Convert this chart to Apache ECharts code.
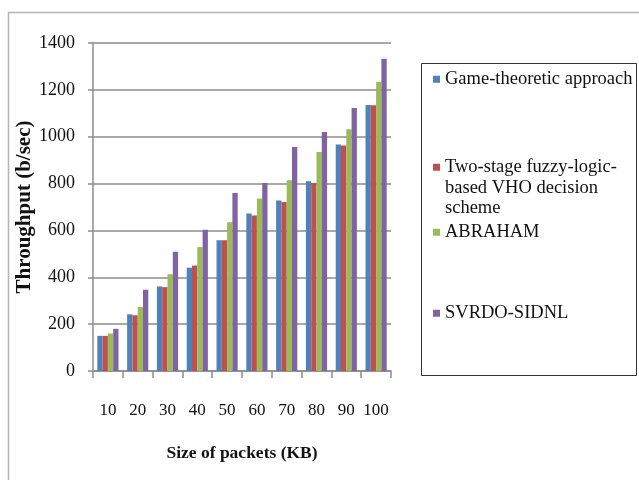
<!DOCTYPE html>
<html>
<head>
<meta charset="utf-8">
<style>
  html, body { margin: 0; padding: 0; background: #fff; }
  #chart { width: 639px; height: 480px; }
</style>
<script src="https://cdn.jsdelivr.net/npm/echarts@6/dist/echarts.min.js"></script>
</head>
<body>
<div id="chart"></div>
<script>
// Packet sizes (KB) on the category axis
const packetSizes = ['10', '20', '30', '40', '50', '60', '70', '80', '90', '100'];

// Throughput (b/sec) for each handover scheme
const gameTheoretic = [150, 242, 361, 441, 558, 672, 728, 810, 967, 1135];
const twoStageFuzzy = [150, 238, 358, 450, 558, 664, 721, 802, 963, 1134];
const abraham       = [160, 273, 413, 529, 635, 736, 814, 935, 1032, 1234];
const svrdoSidnl    = [180, 347, 509, 603, 760, 802, 956, 1020, 1123, 1333];

const seriesNames = [
  'Game-theoretic approach',
  'Two-stage fuzzy-logic-based VHO decision scheme',
  'ABRAHAM',
  'SVRDO-SIDNL'
];
const seriesValues = [gameTheoretic, twoStageFuzzy, abraham, svrdoSidnl];
const seriesColors = ['#4F81BD', '#C0504D', '#9BBB59', '#8064A2'];

const yTicks = { min: 0, max: 1400, interval: 200 };

const serif = '"Liberation Serif", "Times New Roman", serif';

const chart = echarts.init(document.getElementById('chart'), null, { renderer: 'canvas' });

// Each legend entry sits in its own slot inside the framed box
const legendTops = [69, 116, 222, 303];
const legendLabels = {
  'Game-theoretic approach': 'Game-theoretic approach',
  'Two-stage fuzzy-logic-based VHO decision scheme': '\n\nTwo-stage fuzzy-logic-\nbased VHO decision\nscheme',
  'ABRAHAM': 'ABRAHAM',
  'SVRDO-SIDNL': 'SVRDO-SIDNL'
};

const legends = seriesNames.map((name, i) => ({
  data: [name],
  left: 433,
  top: legendTops[i],
  padding: 0,
  orient: 'vertical',
  itemWidth: 7,
  itemHeight: 7,
  icon: 'rect',
  selectedMode: false,
  formatter: n => legendLabels[n],
  textStyle: { fontFamily: serif, fontSize: 18.5, color: '#111', lineHeight: 20.5 }
}));

chart.setOption({
  animation: false,
  backgroundColor: '#fff',
  graphic: [
    {
      type: 'rect',
      shape: { x: 8.5, y: 12.5, width: 700, height: 600 },
      style: { fill: 'none', stroke: '#b5b5b5', lineWidth: 1.5 },
      silent: true, z: -1
    },
    {
      type: 'rect',
      shape: { x: 421.5, y: 63.5, width: 215, height: 312 },
      style: { fill: 'none', stroke: '#333', lineWidth: 1 },
      silent: true
    }
  ],
  legend: legends,
  grid: { left: 93, right: 248, top: 43, bottom: 109 },
  xAxis: {
    type: 'category',
    data: packetSizes,
    name: 'Size of packets (KB)',
    nameLocation: 'middle',
    nameGap: 73,
    nameTextStyle: { fontFamily: serif, fontSize: 17.5, fontWeight: 'bold', color: '#111' },
    axisLine: { lineStyle: { color: '#8c8c8c', width: 1.5 } },
    axisTick: { show: true, length: 7, interval: 0, lineStyle: { color: '#8c8c8c', width: 1.5 } },
    axisLabel: { margin: 31, interval: 0, fontFamily: serif, fontSize: 17, color: '#111' }
  },
  yAxis: {
    type: 'value',
    min: yTicks.min,
    max: yTicks.max,
    interval: yTicks.interval,
    name: 'Throughput (b/sec)',
    nameLocation: 'middle',
    nameGap: 53,
    nameRotate: 90,
    nameTextStyle: { fontFamily: serif, fontSize: 21, fontWeight: 'bold', color: '#111' },
    axisLine: { show: true, lineStyle: { color: '#8c8c8c', width: 1.5 } },
    axisTick: { show: true, length: 5, lineStyle: { color: '#8c8c8c', width: 1.5 } },
    axisLabel: { margin: 18, formatter: v => String(v), fontFamily: serif, fontSize: 18, color: '#111' },
    splitLine: { lineStyle: { color: '#8c8c8c', width: 1.5 } }
  },
  series: seriesNames.map((name, i) => ({
    name: name,
    type: 'bar',
    data: seriesValues[i],
    barGap: '0%',
    barCategoryGap: '29%',
    itemStyle: { color: seriesColors[i] }
  }))
});
</script>
</body>
</html>
